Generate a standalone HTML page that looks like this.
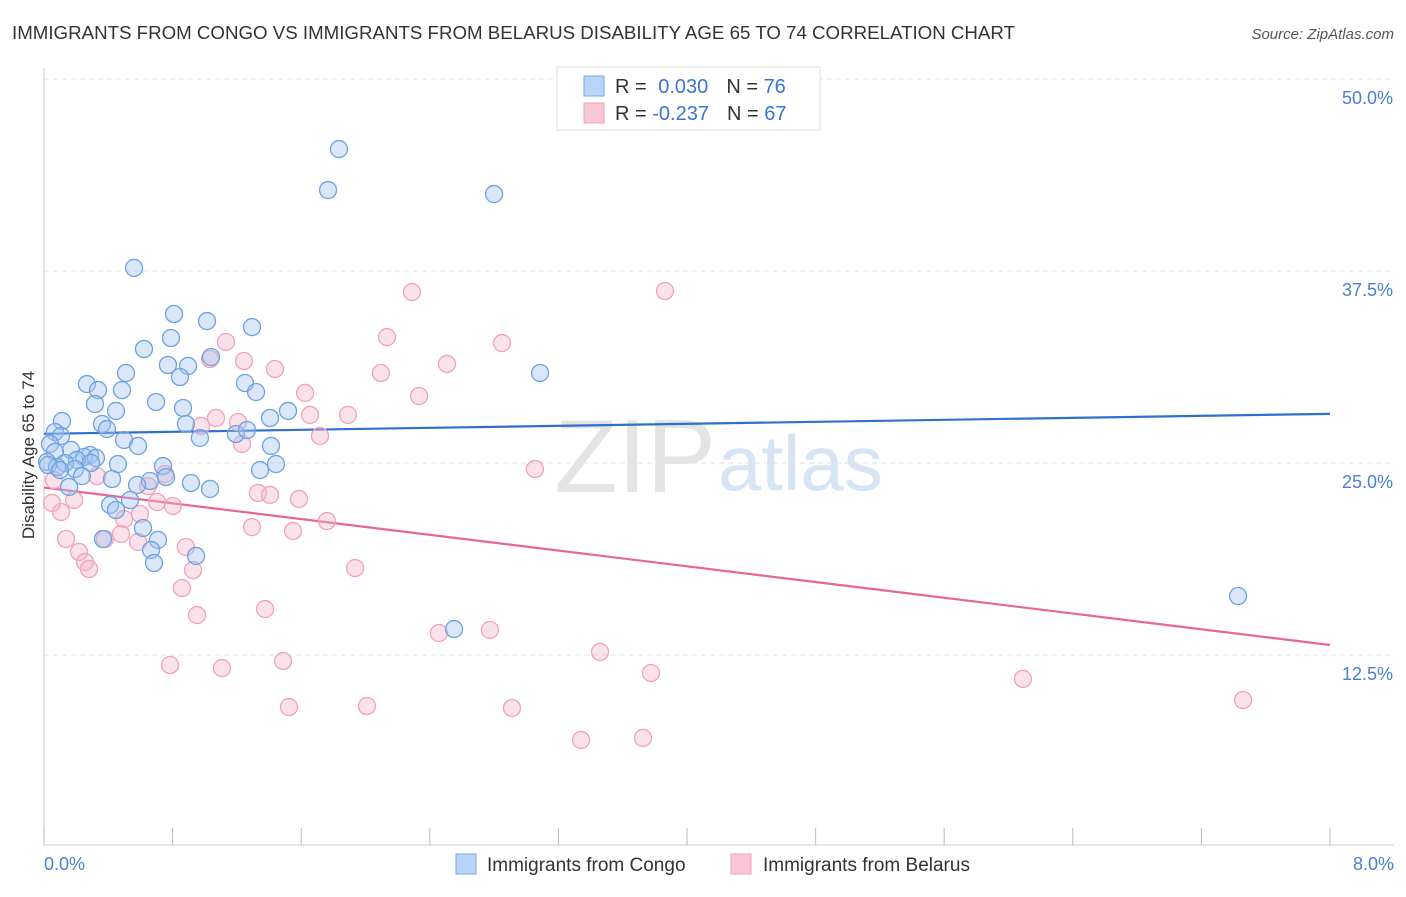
<!DOCTYPE html>
<html><head><meta charset="utf-8"><style>
body{margin:0;background:#fff;font-family:"Liberation Sans",sans-serif;}
svg text{font-family:"Liberation Sans",sans-serif;}
</style></head><body>
<svg id="chart" width="1406" height="892">
<text x="12" y="39" font-size="18" fill="#333" textLength="1003" lengthAdjust="spacingAndGlyphs">IMMIGRANTS FROM CONGO VS IMMIGRANTS FROM BELARUS DISABILITY AGE 65 TO 74 CORRELATION CHART</text>
<text x="1394" y="39" font-size="15" fill="#555" font-style="italic" text-anchor="end">Source: ZipAtlas.com</text>
<text x="716" y="492" font-size="104" fill="#e4e4e4" text-anchor="end" font-family="Liberation Serif">ZIP</text>
<text x="718" y="490" font-size="78" fill="#d6e4f4">atlas</text>
<g id="grid"></g><g id="axes"></g><g id="trends"></g><g id="points"></g>
<text x="34" y="455" font-size="17" fill="#333" text-anchor="middle" transform="rotate(-90 34 455)">Disability Age 65 to 74</text>
<text x="44" y="870" font-size="18" fill="#4a7fd4">0.0%</text>
<text x="1394" y="870" font-size="18" fill="#4a7fd4" text-anchor="end">8.0%</text>
<g>
<rect x="557" y="67" width="263" height="63" fill="#fff" stroke="#ddd"/>
<rect x="584" y="76" width="20" height="20" fill="#b8d4f6" stroke="#7aaae4"/>
<rect x="584" y="103" width="20" height="20" fill="#f9c6d6" stroke="#f0a0b8"/>
<text x="615" y="93" font-size="20" fill="#333">R = <tspan fill="#3a74d0" dx="6">0.030</tspan><tspan dx="18" fill="#333">N = </tspan><tspan fill="#3a74d0">76</tspan></text>
<text x="615" y="120" font-size="20" fill="#333">R = <tspan fill="#3a74d0">-0.237</tspan><tspan dx="18" fill="#333">N = </tspan><tspan fill="#3a74d0">67</tspan></text>
</g>
<g>
<rect x="456" y="854" width="20" height="20" fill="#b8d4f6" stroke="#7aaae4"/>
<text x="487" y="871" font-size="19" fill="#333">Immigrants from Congo</text>
<rect x="731" y="854" width="20" height="20" fill="#f9c6d6" stroke="#f0a0b8"/>
<text x="763" y="871" font-size="19" fill="#333">Immigrants from Belarus</text>
</g>
</svg>
<script>
const yTicks=[12.5,25,37.5,50];
const yTickLabels=["12.5%","25.0%","37.5%","50.0%"];
const xTicks=[0,0.8,1.6,2.4,3.2,4,4.8,5.6,6.4,7.2,8];
const congoX=[1.835,1.767,2.80,0.56,0.809,1.014,1.294,0.79,0.622,1.039,0.771,0.896,0.51,0.846,3.086,0.267,1.25,0.336,0.485,1.319,0.317,0.697,0.865,0.448,1.518,1.406,0.112,0.361,0.883,0.392,0.068,1.194,1.263,0.106,0.498,0.970,0.037,0.585,1.412,0.168,0.068,0.286,0.249,0.323,0.205,0.019,0.131,0.292,0.46,0.74,1.443,0.081,0.193,1.344,0.236,0.423,0.759,0.659,0.914,0.156,0.579,1.033,0.535,0.411,0.448,0.616,0.367,0.709,0.666,0.946,0.684,2.551,7.428,0.025,0.10];
const congoY=[45.44,42.77,42.51,37.70,34.70,34.24,33.85,33.14,32.42,31.90,31.38,31.32,30.86,30.60,30.86,30.14,30.21,29.75,29.75,29.62,28.84,28.97,28.58,28.39,28.39,27.93,27.73,27.54,27.54,27.21,27.02,26.89,27.15,26.76,26.50,26.63,26.24,26.11,26.11,25.85,25.72,25.52,25.39,25.33,25.20,25.07,25.00,25.00,24.93,24.80,24.93,24.74,24.61,24.54,24.15,23.96,24.09,23.83,23.70,23.44,23.57,23.31,22.59,22.27,21.94,20.77,20.05,19.99,19.34,18.95,18.49,14.19,16.34,24.87,24.54];
const belarusX=[2.289,3.863,2.134,2.849,1.132,2.507,1.244,1.033,1.437,2.096,1.624,2.333,1.891,1.07,1.207,1.655,0.977,1.717,1.232,3.054,0.33,0.753,0.062,0.647,1.331,1.406,0.187,1.586,0.703,0.802,0.106,0.05,0.597,0.498,1.76,1.294,1.549,0.479,0.137,0.379,0.585,0.883,0.218,0.255,0.28,1.935,0.927,0.858,1.375,0.952,2.457,2.774,3.459,0.784,1.107,1.487,3.776,6.09,7.459,1.524,2.009,2.911,3.341,3.726];
const belarusY=[36.13,36.20,33.20,32.81,32.88,31.45,31.64,31.77,31.12,30.86,29.56,29.36,28.13,27.93,27.67,28.13,27.41,26.76,26.24,24.61,24.15,24.28,23.89,23.50,23.05,22.92,22.59,22.66,22.46,22.20,21.81,22.40,21.68,21.35,21.22,20.83,20.57,20.38,20.05,20.05,19.86,19.53,19.21,18.55,18.10,18.16,18.03,16.86,15.49,15.10,13.93,14.13,12.70,11.85,11.65,12.11,11.33,10.94,9.57,9.11,9.18,9.05,6.97,7.10];
const congoTrend=[26.9,28.2];
const belarusTrend=[23.4,13.15];
const NS='http://www.w3.org/2000/svg';
const xs=v=>44+v*160.75, ys=v=>847-v*15.36;
function mk(tag,attrs,parent){const e=document.createElementNS(NS,tag);for(const k in attrs)e.setAttribute(k,attrs[k]);document.getElementById(parent).appendChild(e);return e;}
yTicks.forEach((t,i)=>{
 const l=mk('line',{x1:44,x2:1394,y1:ys(t),y2:ys(t),stroke:'#e2e2e2','stroke-dasharray':'5,4'},'grid');
 
 
 const tx=mk('text',{x:1393,y:ys(t)+25,'font-size':18,fill:'#4a7fd4','text-anchor':'end'},'grid');
 tx.textContent=yTickLabels[i];
 
 
});
const ax=mk('line',{x1:44,x2:1394,y1:845,y2:845,stroke:'#ccc'},'axes');


const ay=mk('line',{x1:44,x2:44,y1:68,y2:845,stroke:'#ccc'},'axes');


xTicks.forEach(t=>{
 const l=mk('line',{x1:xs(t),x2:xs(t),y1:828,y2:845,stroke:'#bbb'},'axes');
 
 
});
function dots(X,Y,fill,stroke,name){
 X.forEach((x,i)=>{
  const c=mk('circle',{cx:xs(x),cy:ys(Y[i]),r:8.5,fill:fill,stroke:stroke,'stroke-width':1.3},'points');
  
  
 });
}
dots(belarusX,belarusY,'rgba(246,180,202,0.4)','#f0a3bb','belarus-point');
dots(congoX,congoY,'rgba(160,196,240,0.4)','#6ea2e0','congo-point');
const t1=mk('line',{x1:xs(0),y1:ys(congoTrend[0]),x2:xs(8),y2:ys(congoTrend[1]),stroke:'#2f6fd0','stroke-width':2.2},'trends');


const t2=mk('line',{x1:xs(0),y1:ys(belarusTrend[0]),x2:xs(8),y2:ys(belarusTrend[1]),stroke:'#e8649a','stroke-width':2.2},'trends');


</script>
</body></html>
